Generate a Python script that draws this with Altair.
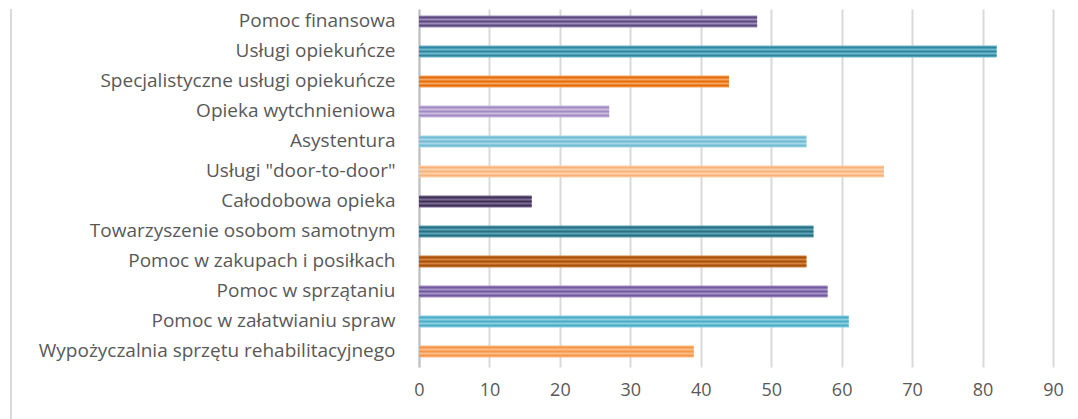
import altair as alt
import pandas as pd

categories = [
    "Pomoc finansowa",
    "Usługi opiekuńcze",
    "Specjalistyczne usługi opiekuńcze",
    "Opieka wytchnieniowa",
    "Asystentura",
    'Usługi "door-to-door"',
    "Całodobowa opieka",
    "Towarzyszenie osobom samotnym",
    "Pomoc w zakupach i posiłkach",
    "Pomoc w sprzątaniu",
    "Pomoc w załatwianiu spraw",
    "Wypożyczalnia sprzętu rehabilitacyjnego",
]
values = [48, 82, 44, 27, 55, 66, 16, 56, 55, 58, 61, 39]

base_colors = ["#9e8bbd", "#6fb9cf", "#f7a560", "#c9bcdc", "#a8d8e6", "#fcd2ad",
               "#7a6a96", "#5aa3b8", "#d9813a", "#a594c4", "#8acfe0", "#fbbd89"]
stripe_colors = ["#5c4a7f", "#31859c", "#e46c0a", "#a08cc2", "#6fbcd2", "#f9b17a",
                 "#403152", "#2a6f82", "#a1520f", "#7359a0", "#4bacc6", "#f79646"]

x_ticks = [0, 10, 20, 30, 40, 50, 60, 70, 80, 90]

df = pd.DataFrame({"cat": categories, "val": values})

FONT = "Open Sans"

y_enc = alt.Y("cat:N", sort=categories,
              axis=alt.Axis(title=None, ticks=False, domain=True, domainColor="#bfbfbf",
                            domainWidth=2, labelFont=FONT, labelFontSize=19,
                            labelColor="#595959", labelPadding=24, labelLimit=420,
                            minExtent=407, maxExtent=407),
              scale=alt.Scale(paddingInner=0.6, paddingOuter=0.267, align=0.4))
x_enc = alt.X("val:Q", scale=alt.Scale(domain=[0, 90]),
              axis=alt.Axis(title=None, values=x_ticks, ticks=False, domain=False,
                            grid=True, gridColor="#d9d9d9", gridWidth=2,
                            labelFont=FONT, labelFontSize=18, labelColor="#595959",
                            labelPadding=14, labelFlush=False))

base = alt.Chart(df).mark_bar(size=12).encode(
    y=y_enc, x=x_enc,
    color=alt.Color("cat:N", scale=alt.Scale(domain=categories, range=base_colors), legend=None),
)

stripe_layers = []
for off in [-4, 0, 4]:
    stripe_layers.append(
        alt.Chart(df).mark_bar(size=2, yOffset=off).encode(
            y=alt.Y("cat:N", sort=categories),
            x=alt.X("val:Q"),
            color=alt.Color("cat:N", scale=alt.Scale(domain=categories, range=stripe_colors), legend=None),
        )
    )

border = alt.Chart(df).mark_rule(color="#d9d9d9", strokeWidth=1.5).encode(
    x=alt.value(-408), y=alt.value(0), y2=alt.value(420)
)

chart = alt.layer(base, *stripe_layers, border).resolve_scale(color="independent").properties(
    width=634, height=358, padding={"left": 2, "top": 0, "right": 0, "bottom": 0}
).configure_view(stroke=None)

chart.save("out.html", embed_options={"renderer": "svg", "actions": False})
